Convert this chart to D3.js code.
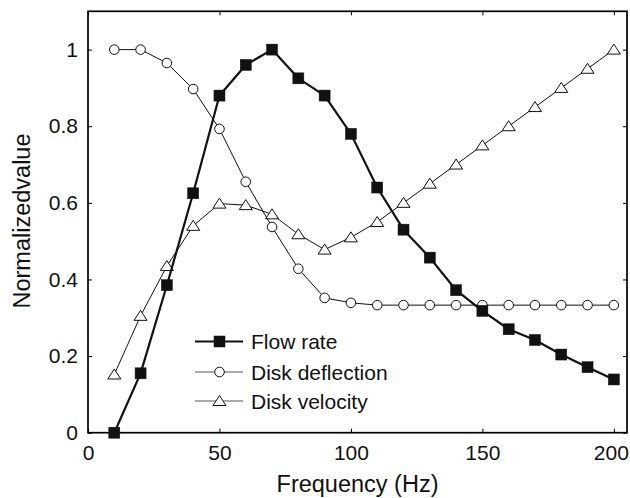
<!DOCTYPE html>
<html>
<head>
<meta charset="utf-8">
<script src="https://cdn.jsdelivr.net/npm/d3@7"></script>
<style>
  html, body { margin: 0; padding: 0; background: #fff; }
  svg { display: block; font-family: "Liberation Sans", Arial, Helvetica, sans-serif; }
</style>
</head>
<body>
<svg id="chart" width="630" height="498"></svg>
<script>
// ---- data ----
const frequency = [10, 20, 30, 40, 50, 60, 70, 80, 90, 100, 110, 120, 130, 140, 150, 160, 170, 180, 190, 200];
const flowRate = [0, 0.155, 0.385, 0.625, 0.88, 0.96, 1.0, 0.925, 0.88, 0.78, 0.64, 0.53, 0.457, 0.372, 0.318, 0.27, 0.242, 0.204, 0.171, 0.139];
const diskDeflection = [1.0, 1.0, 0.965, 0.897, 0.793, 0.655, 0.537, 0.428, 0.352, 0.339, 0.333, 0.333, 0.333, 0.333, 0.333, 0.333, 0.333, 0.333, 0.333, 0.333];
const diskVelocity = [0.152, 0.305, 0.435, 0.54, 0.598, 0.594, 0.57, 0.518, 0.478, 0.51, 0.55, 0.6, 0.65, 0.7, 0.75, 0.8, 0.85, 0.9, 0.95, 1.0];
const seriesNames = ["Flow rate", "Disk deflection", "Disk velocity"];
const xTicks = [0, 50, 100, 150, 200];
const yTicks = [0, 0.2, 0.4, 0.6, 0.8, 1];
const xLabel = "Frequency (Hz)";
const yLabel = "Normalizedvalue";

(function () {
// ---- layout ----
const pL = 88, pR = 627, pT = 11.3, pB = 432.7;
const svg = d3.select("#chart");
const x = d3.scaleLinear().domain([0, 205]).range([pL, pR]);
const y = d3.scaleLinear().domain([0, 1.1]).range([pB, pT]);

const tickFmtY = d => d === 0 ? "0" : d === 1 ? "1" : d3.format(".1f")(d);

// axes (ticks inward)
const gB = svg.append("g").attr("transform", `translate(0,${pB})`)
  .call(d3.axisBottom(x).tickValues(xTicks).tickSizeInner(-4).tickSizeOuter(0).tickPadding(12).tickFormat(d3.format("d")));
const gT = svg.append("g").attr("transform", `translate(0,${pT})`)
  .call(d3.axisTop(x).tickValues(xTicks).tickSizeInner(-4).tickSizeOuter(0).tickFormat(""));
const gL = svg.append("g").attr("transform", `translate(${pL},0)`)
  .call(d3.axisLeft(y).tickValues(yTicks).tickSizeInner(-4).tickSizeOuter(0).tickPadding(10).tickFormat(tickFmtY));
const gR = svg.append("g").attr("transform", `translate(${pR},0)`)
  .call(d3.axisRight(y).tickValues(yTicks).tickSizeInner(-4).tickSizeOuter(0).tickFormat(""));
[gB, gT, gL, gR].forEach(g => {
  g.select(".domain").remove();
  g.selectAll(".tick line").attr("stroke", "#000").attr("stroke-width", 1);
  g.selectAll(".tick text").attr("fill", "#111").style("font-size", "21px");
});
gB.selectAll(".tick text").attr("dy", "0.71em");
// keep the last x label inside the picture, as in the reference
gB.selectAll(".tick text").filter(d => d === 200).attr("dx", -3);

// frame
svg.append("rect").attr("x", pL).attr("y", pT).attr("width", pR - pL).attr("height", pB - pT)
  .attr("fill", "none").attr("stroke", "#000").attr("stroke-width", 1.7);

// axis titles
svg.append("text").attr("x", (pL + pR) / 2).attr("y", 492)
  .attr("text-anchor", "middle").style("font-size", "23.5px").attr("fill", "#111").text(xLabel);
svg.append("text").attr("transform", `translate(30,${(pT + pB) / 2 - 1}) rotate(-90)`)
  .attr("text-anchor", "middle").style("font-size", "23.5px").attr("fill", "#111").text(yLabel);

// series
const line = d3.line().x(d => x(d[0])).y(d => y(d[1]));
const zip = vals => frequency.map((f, i) => [f, vals[i]]);

const triPath = "M0,-5.5L6.5,4.5L-6.5,4.5Z";

function drawMarker(g, type, cx, cy) {
  if (type === "square") {
    g.append("rect").attr("x", cx - 5.5).attr("y", cy - 5.5).attr("width", 11).attr("height", 11)
      .attr("fill", "#111").attr("stroke", "#111").attr("stroke-width", 0.5);
  } else if (type === "circle") {
    g.append("circle").attr("cx", cx).attr("cy", cy).attr("r", 4.8)
      .attr("fill", "#fff").attr("stroke", "#111").attr("stroke-width", 1);
  } else {
    g.append("path").attr("d", triPath).attr("transform", `translate(${cx},${cy})`)
      .attr("fill", "#fff").attr("stroke", "#111").attr("stroke-width", 1);
  }
}

const series = [
  { name: seriesNames[2], vals: diskVelocity, type: "triangle", w: 1 },
  { name: seriesNames[1], vals: diskDeflection, type: "circle", w: 1 },
  { name: seriesNames[0], vals: flowRate, type: "square", w: 2.2 }
];

series.forEach(s => {
  const g = svg.append("g");
  g.append("path").datum(zip(s.vals)).attr("d", line)
    .attr("fill", "none").attr("stroke", "#111").attr("stroke-width", s.w).attr("stroke-linejoin", "round");
  zip(s.vals).forEach(d => drawMarker(g, s.type, x(d[0]), y(d[1])));
});

// legend
const legendRows = [
  { name: seriesNames[0], type: "square", w: 2.2, yy: 341.5 },
  { name: seriesNames[1], type: "circle", w: 1, yy: 372 },
  { name: seriesNames[2], type: "triangle", w: 1, yy: 401 }
];
const lg = svg.append("g");
legendRows.forEach(r => {
  lg.append("line").attr("x1", 195).attr("x2", 243).attr("y1", r.yy).attr("y2", r.yy)
    .attr("stroke", r.type === "square" ? "#111" : "#555").attr("stroke-width", r.w);
  drawMarker(lg, r.type, 219.5, r.yy);
  lg.append("text").attr("x", 251).attr("y", r.yy).attr("dy", "0.36em")
    .style("font-size", "21px").attr("fill", "#111").text(r.name);
});
})();
</script>
</body>
</html>
